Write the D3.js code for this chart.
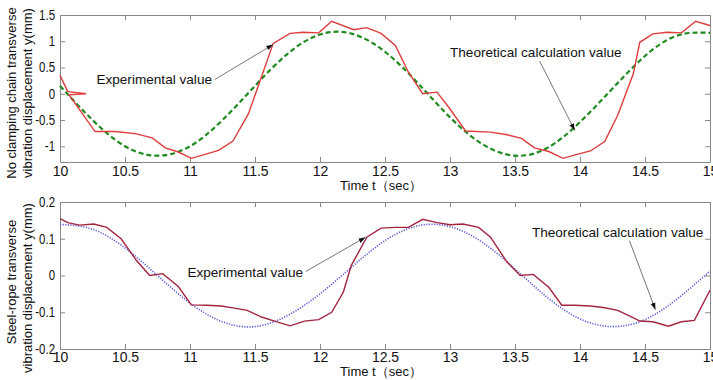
<!DOCTYPE html>
<html>
<head>
<meta charset="utf-8">
<script src="https://cdn.jsdelivr.net/npm/d3@7"></script>
<style>
  body { margin: 0; background: #fff; }
  svg text { font-family: "Liberation Sans", Arial, sans-serif; fill: #111; }
</style>
</head>
<body>
<div id="chart"></div>
<script>
// top panel: no clamping chain
var chainExpT = [10, 10.06, 10.2, 10.07, 10.27, 10.42, 10.58, 10.71, 10.81, 10.91, 11.01, 11.22, 11.33, 11.45, 11.64,
    11.77, 11.87, 11.99, 12.09, 12.26, 12.36, 12.47, 12.58, 12.68, 12.79, 12.9, 13.0, 13.12, 13.31,
    13.44, 13.55, 13.65, 13.76, 13.87, 13.97, 14.08, 14.19, 14.29, 14.41, 14.46, 14.56, 14.67, 14.78, 14.89, 15.0];
var chainExpY = [0.35, 0.04, 0.0, -0.02, -0.72, -0.72, -0.76, -0.84, -1.03, -1.11, -1.23, -1.08, -0.9, -0.38, 0.96,
    1.15, 1.17, 1.16, 1.38, 1.22, 1.26, 1.15, 0.92, 0.41, 0.0, 0.03, -0.29, -0.71, -0.73,
    -0.78, -0.85, -1.03, -1.1, -1.23, -1.16, -1.09, -0.91, -0.41, 0.38, 0.98, 1.14, 1.17, 1.16, 1.38, 1.3];
var theoryT = [10, 10.25, 10.5, 10.75, 11, 11.25, 11.5, 11.75, 12, 12.25, 12.5, 12.75, 13, 13.25, 13.5,
    13.75, 14, 14.25, 14.5, 14.75, 15];
var chainTheoryY = [0.15, -0.5, -1.0, -1.18, -1.0, -0.5, 0.15, 0.76, 1.13, 1.14, 0.8, 0.21, -0.45, -0.96, -1.18,
    -1.03, -0.54, 0.1, 0.72, 1.11, 1.16];

// bottom panel: steel rope
var ropeExpT = [10, 10.06, 10.15, 10.26, 10.36, 10.47, 10.59, 10.69, 10.79, 10.91, 11.01, 11.13, 11.24, 11.33, 11.44,
    11.55, 11.65, 11.77, 11.88, 11.99, 12.09, 12.18, 12.24, 12.36, 12.47, 12.58, 12.68, 12.79, 12.9, 13.0,
    13.1, 13.22, 13.31, 13.44, 13.54, 13.64, 13.76, 13.86, 13.96, 14.08, 14.18, 14.29, 14.4, 14.46, 14.56,
    14.68, 14.78, 14.88, 15.0];
var ropeExpY = [0.155, 0.144, 0.137, 0.14, 0.131, 0.1, 0.04, 0.0, 0.005, -0.03, -0.08, -0.081, -0.083, -0.088, -0.095,
    -0.113, -0.124, -0.137, -0.124, -0.12, -0.1, -0.045, 0.027, 0.104, 0.129, 0.131, 0.131, 0.153, 0.144, 0.138,
    0.14, 0.131, 0.105, 0.036, 0.0, 0.003, -0.032, -0.081, -0.081, -0.083, -0.087, -0.095, -0.113, -0.124, -0.126,
    -0.138, -0.126, -0.122, -0.04];
var ropeTheoryY = [0.139, 0.126, 0.075, 0.0, -0.075, -0.126, -0.139, -0.109, -0.05, 0.025, 0.095, 0.135, 0.133, 0.09, 0.018,
    -0.06, -0.118, -0.139, -0.12, -0.063, 0.012];

var xTicks = [10, 10.5, 11, 11.5, 12, 12.5, 13, 13.5, 14, 14.5, 15];
var chainYTicks = [-1, -0.5, 0, 0.5, 1, 1.5];
var ropeYTicks = [-0.2, -0.1, 0, 0.1, 0.2];

var W = 713, H = 380;
var svg = d3.select("#chart").append("svg").attr("width", W).attr("height", H);

svg.append("defs").append("marker")
    .attr("id", "arr")
    .attr("viewBox", "0 0 10 10")
    .attr("refX", 10).attr("refY", 5)
    .attr("markerWidth", 7).attr("markerHeight", 7)
    .attr("orient", "auto")
  .append("path").attr("d", "M0,1.5L10,5L0,8.5Z").attr("fill", "#111");

var tickFmt = function(d) { return String(d); };   // plain hyphen minus, like MATLAB

function panel(opt) {
    var x = d3.scaleLinear().domain([10, 15]).range([60, 710]);
    var y = d3.scaleLinear().domain(opt.yDomain).range([opt.bottom, opt.top]);
    var g = svg.append("g");

    // axes, MATLAB style: ticks inward on all four sides
    var xb = g.append("g").attr("transform", "translate(0," + opt.bottom + ")")
        .call(d3.axisBottom(x).tickValues(xTicks).tickSizeInner(-5).tickSizeOuter(0).tickPadding(opt.xPad).tickFormat(tickFmt));
    g.append("g").attr("transform", "translate(0," + opt.top + ")")
        .call(d3.axisTop(x).tickValues(xTicks).tickSizeInner(-5).tickSizeOuter(0).tickFormat(""));
    var yl = g.append("g").attr("transform", "translate(60,0)")
        .call(d3.axisLeft(y).tickValues(opt.yTicks).tickSizeInner(-5).tickSizeOuter(0).tickFormat(tickFmt));
    g.append("g").attr("transform", "translate(710,0)")
        .call(d3.axisRight(y).tickValues(opt.yTicks).tickSizeInner(-5).tickSizeOuter(0).tickFormat(""));
    g.selectAll(".domain, .tick line").attr("stroke", "#888");
    xb.selectAll(".tick text").style("font-size", "14px").attr("fill", "#111");
    // y tick labels in the reference are horizontally squeezed
    yl.selectAll(".tick text").style("font-size", "14px").attr("fill", "#111")
        .attr("x", -6).attr("transform", "scale(0.82,1)");

    g.append("path").datum(opt.theoryT.map(function(t, i) { return [t, opt.theoryY[i]]; }))
        .attr("fill", "none")
        .attr("stroke", opt.theoryColor)
        .attr("stroke-width", opt.theoryWidth)
        .attr("stroke-dasharray", opt.theoryDash)
        .attr("d", d3.line().x(function(d) { return x(d[0]); }).y(function(d) { return y(d[1]); }).curve(d3.curveNatural));

    g.append("path").datum(opt.expT.map(function(t, i) { return [t, opt.expY[i]]; }))
        .attr("fill", "none")
        .attr("stroke", opt.expColor)
        .attr("stroke-width", 1.4)
        .attr("d", d3.line().x(function(d) { return x(d[0]); }).y(function(d) { return y(d[1]); }));

    opt.notes.forEach(function(n) {
        g.append("line")
            .attr("x1", x(n.from[0])).attr("y1", y(n.from[1]))
            .attr("x2", x(n.to[0])).attr("y2", y(n.to[1]))
            .attr("stroke", "#777").attr("stroke-width", 1)
            .attr("marker-end", "url(#arr)");
        g.append("text")
            .attr("x", x(n.at[0])).attr("y", y(n.at[1]))
            .attr("dy", "0.35em")
            .style("font-size", "13.6px")
            .text(n.text);
    });

    g.append("text")
        .attr("x", 381).attr("y", opt.bottom + opt.timeDy)
        .attr("text-anchor", "middle")
        .style("font-size", "13px")
        .text("Time  t（sec）");

    var lab = g.append("text")
        .attr("transform", "translate(0," + opt.labelY + ") rotate(-90)")
        .attr("text-anchor", "middle")
        .style("font-size", "13px");
    lab.append("tspan").attr("x", opt.shift1 || 0).attr("y", 16).text(opt.label1);
    lab.append("tspan").attr("x", 0).attr("y", 32).text(opt.label2);
}

panel({
    top: 15, bottom: 162, yDomain: [-1.3, 1.5], yTicks: chainYTicks, xPad: 4, timeDy: 28,
    expT: chainExpT, expY: chainExpY, expColor: "#dd3c3c",
    theoryT: theoryT, theoryY: chainTheoryY, theoryColor: "#1f8a1f", theoryWidth: 2.2, theoryDash: "5,3",
    labelY: 93, label1: "No clamping chain transverse", label2: "vibration displacement  y(mm)",
    notes: [
        {text: "Experimental value", at: [10.28, 0.27], from: [11.19, 0.27], to: [11.64, 0.94]},
        {text: "Theoretical calculation value", at: [13.0, 0.79], from: [13.69, 0.62], to: [13.96, -0.7]}
    ]
});

panel({
    top: 202, bottom: 349, yDomain: [-0.2, 0.2], yTicks: ropeYTicks, xPad: 3, timeDy: 27,
    expT: ropeExpT, expY: ropeExpY, expColor: "#a3243f",
    theoryT: theoryT, theoryY: ropeTheoryY, theoryColor: "#5a5ad6", theoryWidth: 1.6, theoryDash: "1.2,1.4",
    labelY: 288, shift1: 6, label1: "Steel-rope transverse", label2: "vibration displacement  y(mm)",
    notes: [
        {text: "Experimental value", at: [10.98, 0.009], from: [11.89, 0.011], to: [12.35, 0.104]},
        {text: "Theoretical calculation value", at: [13.63, 0.117], from: [14.38, 0.095], to: [14.58, -0.093]}
    ]
});
</script>
</body>
</html>
